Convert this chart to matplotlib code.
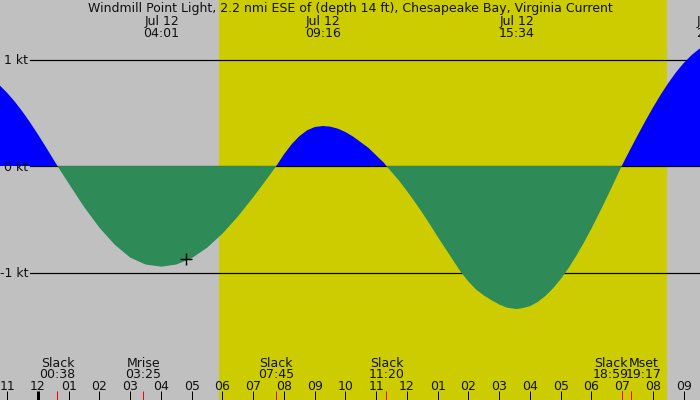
import numpy as np
import matplotlib
matplotlib.use("Agg")
import matplotlib.pyplot as plt

# hours after midnight, Jul 12
t_start, t_end = -1.236, 21.53
sunrise, sunset = 5.89, 20.46

# current speed (kt, + flood / - ebb)
hours = [-1.25, -1.0, -0.75, -0.5, -0.25, 0.0, 0.25, 0.5, 0.633,
         1.0, 1.5, 2.0, 2.5, 3.0, 3.5, 4.017, 4.5, 5.0, 5.5, 6.0, 6.5, 7.0, 7.5, 7.75,
         8.0, 8.25, 8.5, 8.75, 9.0, 9.267, 9.5, 9.75, 10.0, 10.25, 10.5, 10.75,
         11.0, 11.25, 11.333,
         11.75, 12.0, 12.25, 12.5, 12.75, 13.0, 13.25, 13.5, 13.75, 14.0, 14.25,
         14.5, 14.75, 15.0, 15.25, 15.567, 15.75, 16.0, 16.25, 16.5, 16.75, 17.0,
         17.25, 17.5, 17.75, 18.0, 18.25, 18.5, 18.75, 18.983,
         19.25, 19.5, 19.75, 20.0, 20.25, 20.5, 20.75, 21.0, 21.25, 21.5, 21.6]
speed = [0.759, 0.686, 0.603, 0.509, 0.406, 0.296, 0.181, 0.063, 0.0,
         -0.165, -0.385, -0.58, -0.74, -0.86, -0.925, -0.945, -0.925, -0.865,
         -0.767, -0.635, -0.474, -0.293, -0.099, 0.0,
         0.11, 0.205, 0.28, 0.335, 0.366, 0.376, 0.370, 0.351, 0.319, 0.276,
         0.223, 0.17, 0.10, 0.03, 0.0,
         -0.14, -0.235, -0.335, -0.44, -0.55, -0.665, -0.775, -0.885, -0.995,
         -1.085, -1.16, -1.215, -1.26, -1.30, -1.33, -1.343, -1.335, -1.316,
         -1.277, -1.221, -1.149, -1.062, -0.961, -0.846, -0.721, -0.587, -0.444,
         -0.296, -0.144, 0.0,
         0.15, 0.287, 0.421, 0.549, 0.669, 0.78, 0.88, 0.967, 1.04, 1.099, 1.118]

# maxima labelled at the top
max_times = [4.017, 9.267, 15.567, 21.983]
max_labels = ["04:01", "09:16", "15:34", "21:59"]

# events labelled at the bottom
event_names = ["Slack", "Mrise", "Slack", "Slack", "Slack", "Mset"]
event_times = [0.633, 3.417, 7.75, 11.333, 18.983, 19.283]
event_labels = ["00:38", "03:25", "07:45", "11:20", "18:59", "19:17"]

kt_levels = [1, 0, -1]
marker_time, marker_speed = 4.81, -0.873

title = "Windmill Point Light, 2.2 nmi ESE of (depth 14 ft), Chesapeake Bay, Virginia Current"

GREY = "#c0c0c0"
DAY = "#cccc00"
FLOOD = "#0000ff"
EBB = "#2e8b57"

W, H = 700, 400
PX = 0.72  # points per pixel at 100 dpi

fig = plt.figure(figsize=(7, 4), dpi=100, facecolor=GREY)
ax = fig.add_axes([0, 0, 1, 1])
ax.set_facecolor(GREY)
ax.set_xlim(t_start, t_end)
ax.set_ylim(-2.197, 1.559)
ax.axis("off")

ax.axvspan(sunrise, sunset, color=DAY, lw=0, zorder=0)

# reference lines
for v in kt_levels:
    ax.axhline(v, xmin=30 / W, color="black", lw=1.2 * PX, zorder=1)
    ax.annotate(f"{v} kt", xy=(28 / W, v), xycoords=("axes fraction", "data"),
                xytext=(0, -4.5 * PX), textcoords="offset points",
                ha="right", va="baseline", fontsize=9, color="#111111")

t = np.array(hours)
s = np.array(speed)
ax.fill_between(t, s, 0, where=s >= 0, interpolate=True, color=FLOOD, lw=0, zorder=2)
ax.fill_between(t, s, 0, where=s <= 0, interpolate=True, color=EBB, lw=0, zorder=2)

ax.plot([marker_time], [marker_speed], marker="+", color="black",
        markersize=9, mew=1.0, zorder=4)


def fy(py):
    return 1 - py / H


ax.text(0.5, fy(12), title, transform=ax.transAxes, ha="center",
        va="baseline", fontsize=9, color="#111111")

xform = ax.get_xaxis_transform()
for mt, lab in zip(max_times, max_labels):
    ax.text(mt, fy(25), "Jul 12", transform=xform, ha="center", va="baseline",
            fontsize=9, color="#111111")
    ax.text(mt, fy(37), lab, transform=xform, ha="center", va="baseline",
            fontsize=9, color="#111111")

# hour ticks
for h in range(-1, 22):
    ax.text(h, fy(390), f"{(h % 12) or 12:02d}", transform=xform, ha="center",
            va="baseline", fontsize=9, color="#111111")
    ax.plot([h, h], [fy(391), fy(400)], transform=xform, color="black",
            lw=(3 if h == 0 else 1) * PX, solid_capstyle="butt", zorder=3)

shift = {4: -11, 5: 13}
for i, (name, et, lab) in enumerate(zip(event_names, event_times, event_labels)):
    dx = shift.get(i, 0) * PX
    ax.annotate(name, xy=(et, fy(367)), xycoords=xform, xytext=(dx, 0),
                textcoords="offset points", ha="center", va="baseline",
                fontsize=9, color="#111111")
    ax.annotate(lab, xy=(et, fy(378)), xycoords=xform, xytext=(dx, 0),
                textcoords="offset points", ha="center", va="baseline",
                fontsize=9, color="#111111")
    ax.plot([et, et], [fy(391), fy(400)], transform=xform, color="red",
            lw=1 * PX, solid_capstyle="butt", zorder=3)

fig.savefig("out.png", dpi=100, facecolor=GREY)
